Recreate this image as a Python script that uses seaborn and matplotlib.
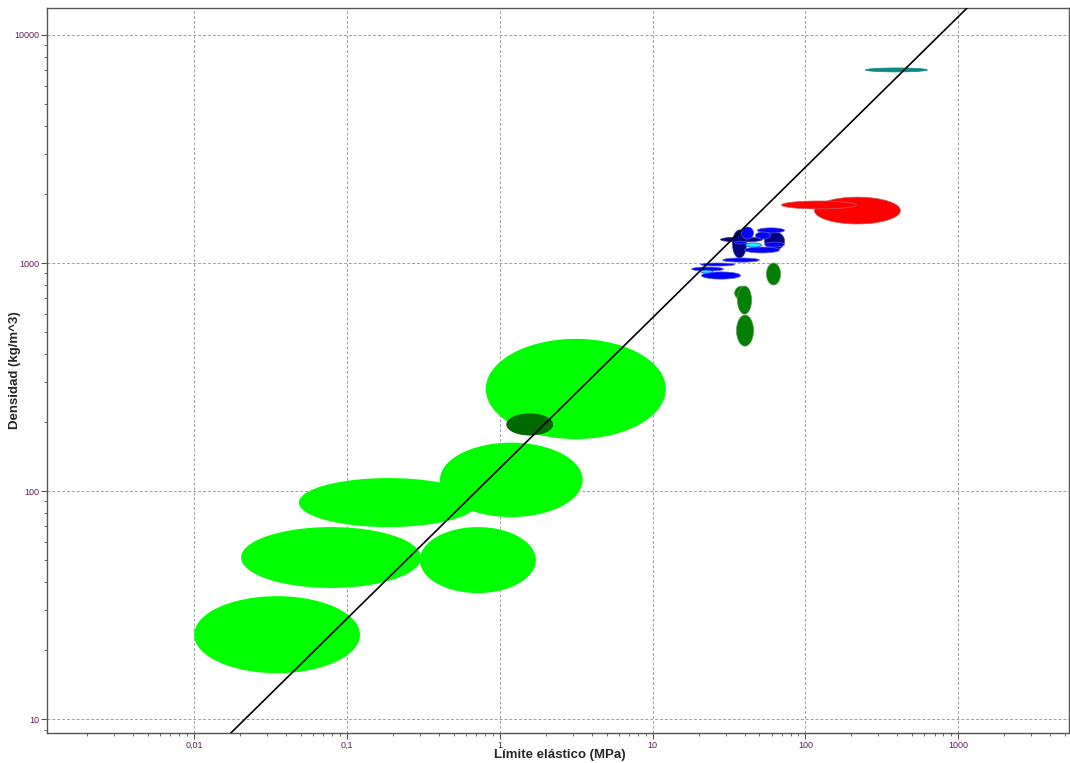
import numpy as np
import pandas as pd
import matplotlib
matplotlib.use("Agg")
import matplotlib.pyplot as plt
from matplotlib.ticker import FixedLocator, FixedFormatter, LogLocator, NullFormatter
import seaborn as sns

# Material property bubbles: yield strength range (MPa) and density range (kg/m^3)
sigma_min = [0.81, 0.406, 0.0485, 0.0203, 0.30, 0.0100,
             1.11,
             55.6, 34.4, 35.9, 35.4,
             114.5, 69.7,
             247.0,
             27.8, 33.3, 54.0,
             38.2, 48.5, 47.1, 34.4, 39.9, 54.0, 28.7, 20.6, 18.0, 20.9,
             40.6, 20.6]
sigma_max = [12.2, 3.48, 0.718, 0.305, 1.72, 0.1216,
             2.22,
             68.7, 43.1, 44.4, 45.7,
             418.0, 215.0,
             627.0,
             52.4, 41.1, 72.9,
             45.7, 72.9, 59.0, 41.1, 67.6, 72.9, 50.0, 34.4, 29.1, 37.6,
             51.5, 24.7]
rho_min = [169, 76.9, 69.5, 37.6, 35.7, 15.9,
           176,
           801, 689, 597, 432,
           1483, 1726,
           6887,
           1236, 1052, 1141,
           1274, 1355, 1274, 1211, 1107, 1175, 1009, 970, 922, 850,
           1175, 903]
rho_max = [465, 163, 114, 69.5, 69.5, 34.6,
           218,
           1000, 792, 792, 591,
           1945, 1871,
           7167,
           1300, 1396, 1368,
           1439, 1426, 1368, 1247, 1175, 1236, 1052, 1000, 960, 914,
           1225, 931]
family = (["foam"] * 6 + ["foam_dark"] + ["wood"] * 4 + ["ceramic"] * 2 + ["metal"]
          + ["polymer_dark"] * 3 + ["polymer"] * 10 + ["elastomer"] * 2)

palette = {
    "foam": "#00ff00",
    "foam_dark": "#006a00",
    "wood": "#007f00",
    "ceramic": "#ff0000",
    "metal": "#0f8787",
    "polymer_dark": "#000080",
    "polymer": "#0000ff",
    "elastomer": "#00ffff",
}
edges = {
    "foam": "none",
    "foam_dark": "#005000",
    "wood": "#5a9a5a",
    "ceramic": "#c06060",
    "metal": "#0f8787",
    "polymer_dark": "#404090",
    "polymer": "#5a5ad8",
    "elastomer": "#3030ff",
}

# Guide line: density = C * strength^n
guide_C = 126.0
guide_n = 0.66

x_ticks = [0.01, 0.1, 1, 10, 100, 1000]
x_labels = ["0,01", "0,1", "1", "10", "100", "1000"]
y_ticks = [10, 100, 1000, 10000]
y_labels = ["10", "100", "1000", "10000"]

df = pd.DataFrame({"smin": sigma_min, "smax": sigma_max,
                   "rmin": rho_min, "rmax": rho_max, "family": family})

sns.set_style("white")
plt.rcParams["font.family"] = ["Liberation Sans", "DejaVu Sans"]

fig = plt.figure(figsize=(10.70, 7.63), dpi=100)
ax = fig.add_axes([47 / 1070, 1 - 733 / 763, 1022 / 1070, 725 / 763])
ax.set_xscale("log")
ax.set_yscale("log")
ax.set_xlim(0.00109, 5300)
ax.set_ylim(8.69, 13130)

t = np.linspace(0, 2 * np.pi, 200)
for _, r in df.iterrows():
    cx = 0.5 * (np.log10(r.smin) + np.log10(r.smax))
    cy = 0.5 * (np.log10(r.rmin) + np.log10(r.rmax))
    a = 0.5 * (np.log10(r.smax) - np.log10(r.smin))
    b = 0.5 * (np.log10(r.rmax) - np.log10(r.rmin))
    xs = 10 ** (cx + a * np.cos(t))
    ys = 10 ** (cy + b * np.sin(t))
    ax.fill(xs, ys, facecolor=palette[r.family], edgecolor=edges[r.family],
            linewidth=0.5, zorder=3)

gx = np.logspace(-3, 4, 50)
guide = pd.DataFrame({"x": gx, "y": guide_C * gx ** guide_n})
sns.lineplot(data=guide, x="x", y="y", color="black", linewidth=1.2, ax=ax, zorder=4)

ax.xaxis.set_major_locator(FixedLocator(x_ticks))
ax.xaxis.set_major_formatter(FixedFormatter(x_labels))
ax.yaxis.set_major_locator(FixedLocator(y_ticks))
ax.yaxis.set_major_formatter(FixedFormatter(y_labels))
ax.xaxis.set_minor_locator(LogLocator(base=10, subs=np.arange(2, 10), numticks=20))
ax.yaxis.set_minor_locator(LogLocator(base=10, subs=np.arange(2, 10), numticks=20))
ax.xaxis.set_minor_formatter(NullFormatter())
ax.yaxis.set_minor_formatter(NullFormatter())

tick_color = "#5a2050"
ax.tick_params(axis="both", which="major", direction="out", length=4, width=0.8,
               color="#555555", labelsize=6.5, labelcolor=tick_color, pad=1.5,
               bottom=True, left=True)
ax.tick_params(axis="both", which="minor", direction="out", length=2.5, width=0.6,
               color="#555555", bottom=True, left=True)

ax.grid(True, which="major", color="#a0a0a0", linestyle=(0, (3, 2)), linewidth=0.7, zorder=0)
ax.set_axisbelow(True)
for s in ax.spines.values():
    s.set_color("#555555")
    s.set_linewidth(1.0)

ax.set_xlabel("Límite elástico (MPa)", fontsize=9.5, fontweight="bold")
ax.set_ylabel("Densidad (kg/m^3)", fontsize=9.5, fontweight="bold")
ax.xaxis.set_label_coords(0.502, -0.0305)
ax.yaxis.set_label_coords(-0.0313, 0.5)
ax.xaxis.label.set_verticalalignment("center")
ax.yaxis.label.set_verticalalignment("center")

fig.savefig("out.png", dpi=100)
